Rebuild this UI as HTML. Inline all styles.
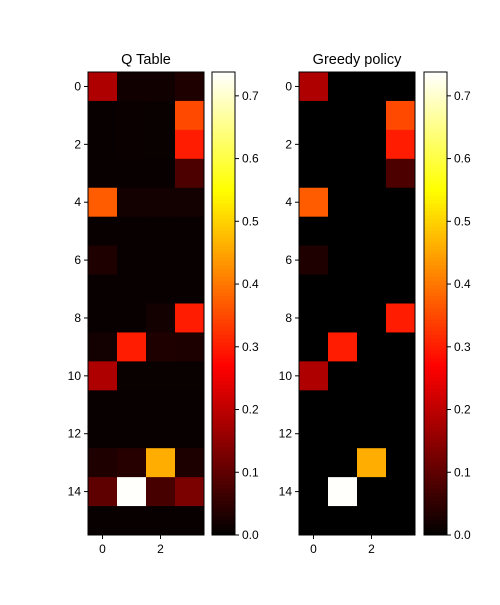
<!DOCTYPE html>
<html><head><meta charset="utf-8"><style>
body{margin:0;background:#fff;}
svg text{font-family:"Liberation Sans","DejaVu Sans",sans-serif;font-size:12px;fill:#000;}
</style></head><body>
<svg id="fig" width="500" height="600"></svg>
<script>
const rows=[0,1,2,3,4,5,6,7,8,9,10,11,12,13,14,15];
const cols=[0,1,2,3];
const qValues=[
[0.185,0.017,0.017,0.033],
[0.008,0.012,0.01,0.35],
[0.008,0.012,0.01,0.30],
[0.008,0.008,0.008,0.08],
[0.37,0.02,0.02,0.02],
[0.008,0.008,0.008,0.008],
[0.033,0.008,0.008,0.008],
[0.008,0.008,0.008,0.008],
[0.008,0.008,0.02,0.30],
[0.02,0.30,0.033,0.03],
[0.185,0.01,0.01,0.01],
[0.008,0.008,0.008,0.008],
[0.008,0.008,0.008,0.008],
[0.033,0.04,0.46,0.03],
[0.10,0.735,0.075,0.13],
[0.008,0.008,0.008,0.008]];
const greedyValues=[
[0.185,0,0,0],[0,0,0,0.35],[0,0,0,0.30],[0,0,0,0.08],[0.37,0,0,0],
[0,0,0,0],[0.033,0,0,0],[0,0,0,0],[0,0,0,0.30],[0,0.30,0,0],
[0.185,0,0,0],[0,0,0,0],[0,0,0,0],[0,0,0.46,0],[0,0.735,0,0],[0,0,0,0]];
const yTicks=[0,2,4,6,8,10,12,14];
const xTicks=[0,2];
const cbTicks=[0,0.1,0.2,0.3,0.4,0.5,0.6,0.7];
const vmax=0.738;
const NS="http://www.w3.org/2000/svg";
const svg=document.getElementById('fig');
function el(t,a,p){const e=document.createElementNS(NS,t);for(const k in a)e.setAttribute(k,a[k]);(p||svg).appendChild(e);return e;}
function hot(v){const t=Math.max(0,Math.min(1,v/vmax));
 const r=Math.min(1,t/0.365),g=Math.max(0,Math.min(1,(t-0.365)/0.38)),b=Math.max(0,Math.min(1,(t-0.746)/0.254));
 return `rgb(${Math.round(r*255)},${Math.round(g*255)},${Math.round(b*255)})`;}
const plotTop=72,plotBot=535,cw=29;
const rh=(plotBot-plotTop)/rows.length;
function panel(x0,cbx,data,title,name){
 const g=el('g',{});
 
 
 const xs=c=>x0+c*cw, ys=r=>plotTop+r*rh;
 rows.forEach(r=>cols.forEach(c=>{
  const e=el('rect',{x:xs(c),y:ys(r),width:cw+0.5,height:rh+0.5,fill:hot(data[r][c])},g);
  
  
 }));
 el('rect',{x:x0,y:plotTop,width:cw*4,height:plotBot-plotTop,fill:'none',stroke:'#000','stroke-width':1},g);
 yTicks.forEach(r=>{const y=ys(r)+rh/2;
  el('line',{x1:x0-4,x2:x0,y1:y,y2:y,stroke:'#000'},g);
  const t=el('text',{x:x0-7,y:y+4,'text-anchor':'end'},g);t.textContent=r;
  
  });
 xTicks.forEach(c=>{const x=xs(c)+cw/2;
  el('line',{x1:x,x2:x,y1:plotBot,y2:plotBot+4,stroke:'#000'},g);
  const t=el('text',{x:x,y:plotBot+18,'text-anchor':'middle'},g);t.textContent=c;
  
  });
 const tt=el('text',{x:x0+cw*2,y:64,'text-anchor':'middle',style:'font-size:14.5px'},g);tt.textContent=title;
 
 
 const cb=el('g',{},g);
 
 
 const n=120;
 for(let i=0;i<n;i++){const v=vmax*(i+0.5)/n;
  el('rect',{x:cbx,y:plotBot-(i+1)*(plotBot-plotTop)/n,width:23,height:(plotBot-plotTop)/n+0.5,fill:hot(v)},cb);}
 el('rect',{x:cbx,y:plotTop,width:23,height:plotBot-plotTop,fill:'none',stroke:'#000'},cb);
 cbTicks.forEach(v=>{const y=plotBot-v/vmax*(plotBot-plotTop);
  el('line',{x1:cbx+23,x2:cbx+27,y1:y,y2:y,stroke:'#000'},cb);
  const t=el('text',{x:cbx+30,y:y+4},cb);t.textContent=v.toFixed(1);
  
  });
}
panel(88,212,qValues,'Q Table','q-table-heatmap');
panel(299,424,greedyValues,'Greedy policy','greedy-policy-heatmap');
</script>
</body></html>
